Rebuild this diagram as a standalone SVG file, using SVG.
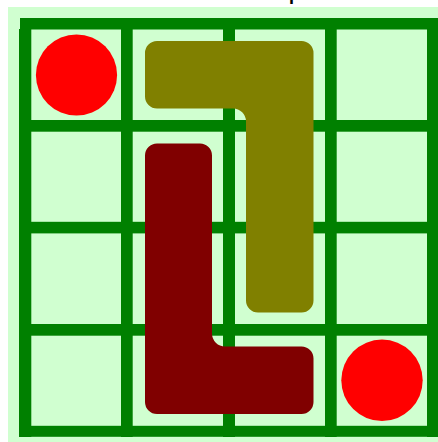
<svg xmlns="http://www.w3.org/2000/svg" width="438" height="442" viewBox="0 0 438 442">
  <style>
    .board { fill: #d0ffd0; }
    .gl { fill: #008000; }
    .neutral { fill: #ff0000; }
    .lpiece1 { fill: #808000; }
    .lpiece2 { fill: #800000; }
    .title { font-family: "Liberation Sans", Arial, sans-serif; font-size: 18px; font-weight: bold; fill: #000000; }
  </style>
  <rect x="0" y="0" width="438" height="442" fill="#ffffff"/>
  <text class="title" x="289" y="0">p</text>
  <rect class="board" x="8" y="7" width="430" height="435"/>
  <g id="grid">
    <rect class="gl" x="20" y="18" width="418" height="11.5"/>
    <rect class="gl" x="20" y="120" width="418" height="11.7"/>
    <rect class="gl" x="20" y="221.8" width="418" height="11.6"/>
    <rect class="gl" x="20" y="324" width="418" height="11.7"/>
    <rect class="gl" x="20" y="425.8" width="418" height="11"/>
    <rect class="gl" x="19" y="29" width="12.3" height="408"/>
    <rect class="gl" x="121" y="18" width="11.7" height="419"/>
    <rect class="gl" x="223" y="18" width="12" height="419"/>
    <rect class="gl" x="325" y="18" width="11.7" height="419"/>
    <rect class="gl" x="427" y="18" width="11" height="419"/>
  </g>
  <g id="neutral1"><circle class="neutral" cx="76.5" cy="75" r="40.6"/></g>
  <g id="neutral2"><circle class="neutral" cx="382" cy="380.3" r="40.7"/></g>
  <g id="lpiece-olive">
    <path class="lpiece1" d="M157,41 H301.5 A12,12 0 0 1 313.5,53 V300.5 A12,12 0 0 1 301.5,312.5 H258 A12,12 0 0 1 246,300.5 V121.5 A13,13 0 0 0 233,108.5 H157 A12,12 0 0 1 145,96.5 V53 A12,12 0 0 1 157,41 Z"/>
  </g>
  <g id="lpiece-maroon">
    <path class="lpiece2" d="M157,143.5 H200 A12,12 0 0 1 212,155.5 V333.5 A13,13 0 0 0 225,346.5 H301.5 A12,12 0 0 1 313.5,358.5 V402 A12,12 0 0 1 301.5,414 H157 A12,12 0 0 1 145,402 V155.5 A12,12 0 0 1 157,143.5 Z"/>
  </g>
</svg>
